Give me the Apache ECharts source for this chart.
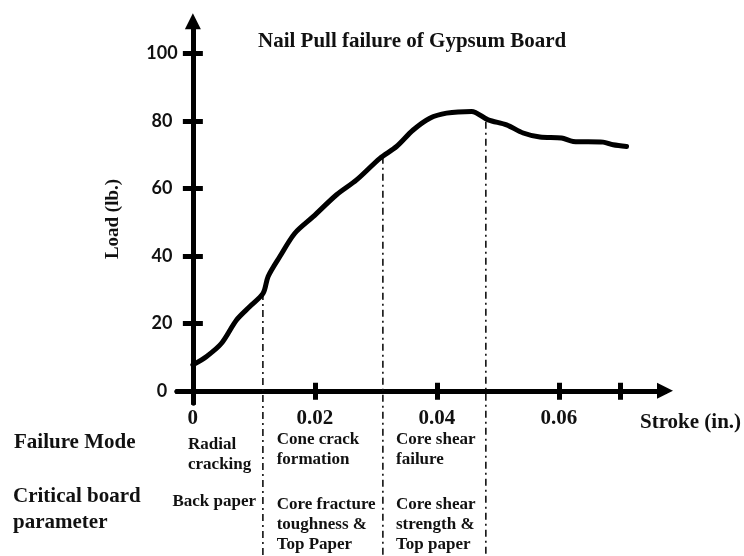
<!DOCTYPE html>
<html>
<head>
<meta charset="utf-8">
<script src="https://cdn.jsdelivr.net/npm/echarts@6/dist/echarts.min.js"></script>
<style>
  html, body { margin: 0; padding: 0; background: #fff; }
  #chart { width: 744px; height: 556px; }
</style>
</head>
<body>
<div id="chart"></div>
<script>
// Load vs. stroke record of a nail pull test on gypsum board
const stroke = [0, 0.00225, 0.0047, 0.00716, 0.00934, 0.01152, 0.01234, 0.01426, 0.01672,
  0.01972, 0.02356, 0.02684, 0.03066, 0.03339, 0.03611, 0.03885, 0.04159, 0.04569,
  0.04841, 0.05143, 0.05415, 0.05689, 0.06044, 0.06234, 0.06726, 0.0689, 0.0711];
const load = [7.7, 10.2, 14.1, 21.0, 25.0, 28.9, 33.9, 39.8, 46.7,
  51.6, 58.1, 62.5, 68.9, 72.4, 77.3, 80.8, 82.3, 82.8,
  80.3, 78.8, 76.4, 75.2, 74.9, 73.9, 73.7, 72.9, 72.4];

// Axis ticks and labels
const xTicks = [0, 0.02, 0.04, 0.06, 0.07];
const xTickLabels = [0, 0.02, 0.04, 0.06];
const yTicks = [0, 20, 40, 60, 80, 100];

// Stage boundaries: stroke where a stage ends and the load on the curve there
const stageStroke = [0.01148, 0.03115, 0.04803];
const stageLoad = [29.0, 69.4, 79.7];

// Table below the plot
const rowHeads = ['Failure Mode', 'Critical board\nparameter'];
const stageModes = ['Radial\ncracking', 'Cone crack\nformation', 'Core shear\nfailure'];
const stageParams = ['Back paper', 'Core fracture\ntoughness &\nTop Paper', 'Core shear\nstrength &\nTop paper'];

const SERIF = '"Liberation Serif", "Times New Roman", serif';
const INK = '#111';

function serifText(text, x, y, size, extra) {
  return {
    type: 'text', x: x, y: y, silent: true,
    style: Object.assign({
      text: text, fontFamily: SERIF, fontWeight: 'bold', fontSize: size, fill: INK,
      align: 'left', verticalAlign: 'middle'
    }, extra || {})
  };
}

const xRange = { min: -0.0026, max: 0.0774 };
const yRange = { min: -3.6, max: 109.5 };

const chart = echarts.init(document.getElementById('chart'), null, { renderer: 'canvas' });

const axisLine = { show: true, lineStyle: { color: '#000', width: 5 } };

const loadName = serifText('Load (lb.)', 113, 219, 19, { align: 'center' });
loadName.rotation = Math.PI / 2;

chart.setOption({
  animation: false,
  backgroundColor: '#fff',
  title: {
    text: 'Nail Pull failure of Gypsum Board',
    left: 258, top: 31, padding: 0,
    textStyle: { fontFamily: SERIF, fontWeight: 'bold', fontSize: 21, color: INK }
  },
  grid: { left: 177, right: 79, top: 21.3, bottom: 153, containLabel: false, outerBoundsMode: 'none' },
  xAxis: [
    {
      type: 'value', position: 'bottom', min: xRange.min, max: xRange.max,
      axisLine: Object.assign({}, axisLine, {
        onZero: true, onZeroAxisIndex: 0,
        symbol: ['none', 'triangle'], symbolSize: [16, 16]
      }),
      axisTick: { show: true, customValues: xTicks, length: 9, lineStyle: { color: '#000', width: 5 } },
      axisLabel: {
        show: true, customValues: xTickLabels, margin: 5,
        fontFamily: SERIF, fontWeight: 'bold', fontSize: 21, color: INK
      },
      splitLine: { show: false }
    },
    {
      type: 'value', position: 'top', min: xRange.min, max: xRange.max,
      axisLine: Object.assign({}, axisLine, { onZero: true, onZeroAxisIndex: 1 }),
      axisTick: { show: true, customValues: xTicks, length: 8, lineStyle: { color: '#000', width: 5 } },
      axisLabel: { show: false },
      splitLine: { show: false }
    }
  ],
  yAxis: [
    {
      type: 'value', position: 'left', min: yRange.min, max: yRange.max,
      axisLine: Object.assign({}, axisLine, {
        onZero: true, onZeroAxisIndex: 0,
        symbol: ['none', 'triangle'], symbolSize: [16, 16]
      }),
      axisTick: { show: true, customValues: yTicks, length: 10, lineStyle: { color: '#000', width: 5 } },
      axisLabel: {
        show: true, customValues: yTicks, margin: 15, align: 'center',
        fontFamily: 'Lato', fontWeight: 'bold', fontSize: 18, color: INK
      },
      splitLine: { show: false }
    },
    {
      type: 'value', position: 'right', min: yRange.min, max: yRange.max,
      axisLine: Object.assign({}, axisLine, { onZero: true, onZeroAxisIndex: 1 }),
      axisTick: { show: true, customValues: yTicks, length: 10, lineStyle: { color: '#000', width: 5 } },
      axisLabel: { show: false },
      splitLine: { show: false }
    }
  ],
  series: stageStroke.map(function (s, i) {
    return {
      type: 'line', xAxisIndex: 0, yAxisIndex: 0, clip: false, silent: true,
      symbol: 'none', z: 1,
      data: [[s, stageLoad[i]], [s, -50]],
      lineStyle: { color: INK, width: 1.6, type: [7, 4, 2, 4] }
    };
  }).concat([{
    type: 'line', xAxisIndex: 0, yAxisIndex: 0, symbol: 'none', z: 3,
    smooth: 0.3,
    data: stroke.map(function (x, i) { return [x, load[i]]; }),
    lineStyle: { color: '#000', width: 5, cap: 'round', join: 'round' }
  }]),
  graphic: [
    loadName,
    serifText('Stroke (in.)', 640, 423, 21),
    serifText(rowHeads[0], 14, 443, 21),
    serifText(rowHeads[1], 13, 484, 21, { verticalAlign: 'top', lineHeight: 26 }),
    serifText(stageModes[0], 188, 435.25, 17, { verticalAlign: 'top', lineHeight: 19.5 }),
    serifText(stageModes[1], 276.7, 430.25, 17, { verticalAlign: 'top', lineHeight: 19.5 }),
    serifText(stageModes[2], 396, 430.25, 17, { verticalAlign: 'top', lineHeight: 19.5 }),
    serifText(stageParams[0], 256, 501.7, 17, { align: 'right' }),
    serifText(stageParams[1], 276.7, 495, 17, { verticalAlign: 'top', lineHeight: 20 }),
    serifText(stageParams[2], 396, 495, 17, { verticalAlign: 'top', lineHeight: 20 })
  ]
});
</script>
</body>
</html>
